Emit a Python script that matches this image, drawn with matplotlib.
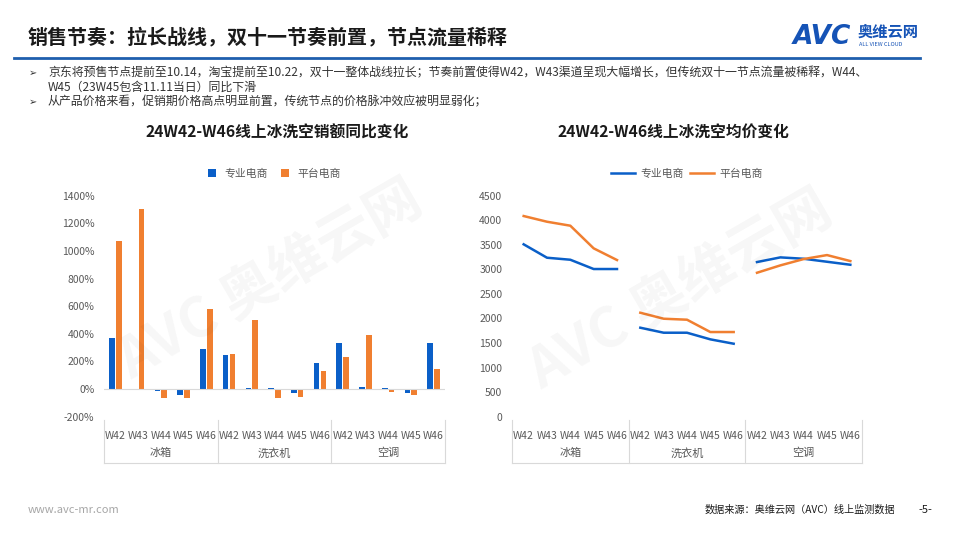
import matplotlib
matplotlib.use("Agg")
import matplotlib.pyplot as plt
import numpy as np

plt.rcParams["font.family"] = ["Noto Sans CJK SC", "DejaVu Sans"]

# Data
weeks = ["W42", "W43", "W44", "W45", "W46"]
groups = ["冰箱", "洗衣机", "空调"]
series = ["专业电商", "平台电商"]

# YoY sales change (%) per group x week
pro_yoy = [372, 0, -14, -43, 288,
           249, 10, 5, -27, 186,
           331, 17, 5, -27, 336]
plat_yoy = [1075, 1302, -65, -65, 580,
            256, 498, -65, -56, 130,
            232, 391, -22, -43, 147]

# average price
pro_price = [3510, 3237, 3196, 3007, 3007,
             1812, 1710, 1710, 1575, 1486,
             3149, 3244, 3216, 3155, 3094]
plat_price = [4086, 3970, 3889, 3428, 3190,
              2117, 1995, 1975, 1724, 1724,
              2931, 3081, 3210, 3291, 3169]

BLUE = "#0a5fc8"
ORANGE = "#f07f30"
GRAY = "#595959"
W, H = 960, 540

fig = plt.figure(figsize=(9.6, 5.4), dpi=100)


def px_axes(x0, y0, x1, y1):
    # pixel box (top-left origin) -> figure axes
    return fig.add_axes([x0 / W, 1 - y1 / H, (x1 - x0) / W, (y1 - y0) / H])


def fy(y):
    return 1 - y / H


# header
fig.text(28 / W, fy(37), "销售节奏：拉长战线，双十一节奏前置，节点流量稀释",
         fontsize=14.4, fontweight="bold", color="#1a1a1a", va="center")
fig.add_artist(plt.Line2D([14 / W, 920 / W], [fy(58), fy(58)], color="#1f5fae", lw=2))
fig.text(793 / W, fy(37), "AVC", fontsize=19, fontweight="bold", fontstyle="italic",
         color="#1553b6", va="center", family=["DejaVu Sans"])
fig.text(858 / W, fy(32), "奥维云网", fontsize=11, fontweight="bold", color="#1553b6", va="center")
fig.text(859 / W, fy(45), "ALL VIEW CLOUD", fontsize=4, color="#1553b6", va="center")

bullets = [
    (73, "➢", "京东将预售节点提前至10.14，淘宝提前至10.22，双十一整体战线拉长；节奏前置使得W42，W43渠道呈现大幅增长，但传统双十一节点流量被稀释，W44、"),
    (87, "", "W45（23W45包含11.11当日）同比下滑"),
    (102, "➢", "从产品价格来看，促销期价格高点明显前置，传统节点的价格脉冲效应被明显弱化；"),
]
for y, b, t in bullets:
    if b:
        fig.text(29 / W, fy(y), b, fontsize=7, color="#333333", va="center")
    fig.text(48 / W, fy(y), t, fontsize=8.6, color="#333333", va="center")

# watermarks
for x, y in [(270, 280), (680, 290)]:
    fig.text(x / W, fy(y), "AVC 奥维云网", fontsize=40, fontweight="bold", color="#000000",
             alpha=0.035, rotation=30, ha="center", va="center")

x = np.arange(15)
labels = weeks * 3


def category_axis(ax):
    # two-level category box below the axes
    ax.set_xticks(x)
    ax.set_xticklabels(labels, fontsize=7.5, color=GRAY)
    ax.tick_params(axis="x", length=0, pad=10)
    n = 15
    for k in range(4):
        xx = k * 5 / n
        ax.plot([xx, xx], [-0.015, -0.21], transform=ax.transAxes, color="#d9d9d9",
                lw=0.8, clip_on=False)
    ax.plot([0, 1], [-0.21, -0.21], transform=ax.transAxes, color="#d9d9d9", lw=0.8, clip_on=False)
    for k, g in enumerate(groups):
        ax.text((k * 5 + 2.5) / n, -0.165, g, transform=ax.transAxes, ha="center",
                va="center", fontsize=8, color=GRAY)


# left: bar chart
ax1 = px_axes(104, 195.7, 445, 416.7)
ax1.bar(x - 0.15, pro_yoy, width=0.25, color=BLUE, label=series[0])
ax1.bar(x + 0.15, plat_yoy, width=0.25, color=ORANGE, label=series[1])
ax1.axhline(0, color="#d9d9d9", lw=0.8)
ax1.set_xlim(-0.5, 14.5)
ax1.set_ylim(-200, 1400)
ax1.set_yticks(range(-200, 1401, 200))
ax1.set_yticklabels([f"{v}%" for v in range(-200, 1401, 200)], fontsize=7.5, color=GRAY)
ax1.tick_params(axis="y", length=0, pad=7)
for s in ax1.spines.values():
    s.set_visible(False)
category_axis(ax1)
fig.text(277 / W, fy(133), "24W42-W46线上冰洗空销额同比变化", fontsize=11.3,
         fontweight="bold", color="#1a1a1a", ha="center", va="center")
ax1.legend(loc="center", bbox_to_anchor=(0.5, 1.1), ncol=2, frameon=False, fontsize=7.8,
           handlelength=0.7, handleheight=0.7, columnspacing=1.2, labelcolor=GRAY)

# right: line chart
ax2 = px_axes(512, 195.7, 862, 416.7)
for k in range(3):
    seg = slice(k * 5, k * 5 + 5)
    ax2.plot(x[seg], pro_price[seg], color=BLUE, lw=1.8,
             label=series[0] if k == 0 else None)
    ax2.plot(x[seg], plat_price[seg], color=ORANGE, lw=1.8,
             label=series[1] if k == 0 else None)
ax2.set_xlim(-0.5, 14.5)
ax2.set_ylim(0, 4500)
ax2.set_yticks(range(0, 4501, 500))
ax2.set_yticklabels([str(v) for v in range(0, 4501, 500)], fontsize=7.5, color=GRAY)
ax2.tick_params(axis="y", length=0, pad=7)
for s in ax2.spines.values():
    s.set_visible(False)
category_axis(ax2)
fig.text(673 / W, fy(133), "24W42-W46线上冰洗空均价变化", fontsize=11.3,
         fontweight="bold", color="#1a1a1a", ha="center", va="center")
ax2.legend(loc="center", bbox_to_anchor=(0.5, 1.1), ncol=2, frameon=False, fontsize=7.8,
           handlelength=2.2, columnspacing=0.6, handletextpad=0.5, labelcolor=GRAY)

# footer
fig.text(28 / W, fy(510), "www.avc-mr.com", fontsize=8, color="#a6a6a6", va="center")
fig.text(895 / W, fy(510), "数据来源：奥维云网（AVC）线上监测数据", fontsize=7.3,
         color="#1a1a1a", ha="right", va="center")
fig.text(925 / W, fy(510), "-5-", fontsize=8, color="#1a1a1a", ha="center", va="center")

fig.savefig("out.png", dpi=100)
plt.close(fig)
